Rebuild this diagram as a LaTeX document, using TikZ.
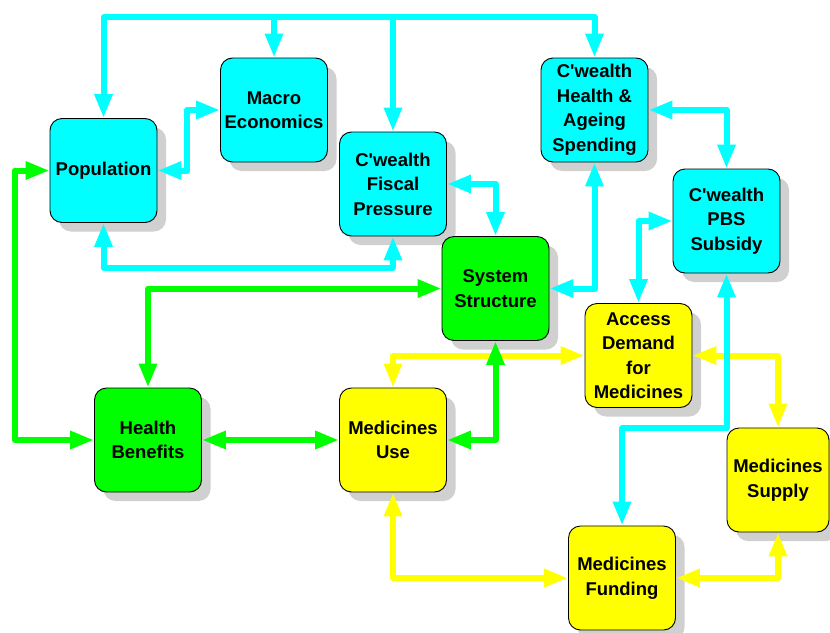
\documentclass[tikz,border=0pt]{standalone}
\usepackage{fontspec}
\setmainfont{Liberation Sans}
\usetikzlibrary{arrows.meta,shadows}
\definecolor{cy}{HTML}{00FFFF}
\definecolor{gr}{HTML}{00FF00}
\definecolor{ye}{HTML}{FFFF00}
\definecolor{sh}{HTML}{D0D0D0}
\newcommand{\cw}{C\textquotesingle wealth}
\begin{document}
\begin{tikzpicture}[x=1pt,y=-1pt,
  box/.style={rectangle, rounded corners=12pt, draw=black, line width=0.9pt,
    minimum width=107pt, minimum height=104pt, inner sep=0pt, align=center,
    font=\fontsize{18.5}{24.5}\selectfont\bfseries,
    drop shadow={shadow xshift=9pt, shadow yshift=-9pt, fill=sh, opacity=1}},
  cbox/.style={box, fill=cy},
  gbox/.style={box, fill=gr},
  ybox/.style={box, fill=ye},
  conn/.style={line width=6pt, line join=round, >={Triangle[length=24pt,width=17pt]}},
  cline/.style={conn, draw=cy},
  gline/.style={conn, draw=gr},
  yline/.style={conn, draw=ye}]
\useasboundingbox (0,0) rectangle (830,632);

% nodes
\node[cbox] (pop)    at (103.5,170.5) {Population};
\node[cbox] (macro)  at (274,110)     {Macro\\Economics};
\node[cbox] (fiscal) at (393,184)     {\cw\\Fiscal\\Pressure};
\node[cbox] (hag)    at (594.5,110)   {\cw\\Health \&\\Ageing\\Spending};
\node[cbox] (pbs)    at (726.5,221)   {\cw\\PBS\\Subsidy};
\node[gbox] (sys)    at (495.5,288.5) {System\\Structure};
\node[ybox] (acc)    at (638.5,355.5) {Access\\Demand\\for\\Medicines};
\node[gbox] (hb)     at (148,440)     {Health\\Benefits};
\node[ybox] (use)    at (393,440)     {Medicines\\Use};
\node[ybox, minimum width=102pt] (sup) at (778,480) {Medicines\\Supply};
\node[ybox] (fund)   at (622,578)     {Medicines\\Funding};

\coordinate (busy) at (0,17);

% yellow connectors
\draw[yline,<->] (use.north) |- (acc.west);
\draw[yline,<->] (acc.east) -| (sup.north);
\draw[yline,<->] (use.south) |- (fund.west);
\draw[yline,<->] (fund.east) -| (sup.south);

% cyan connectors
\draw[cline,<->] (pop.north) -- (pop.north |- busy) -- (hag.north |- busy) -- (hag.north);
\draw[cline,->] (macro.north |- busy) -- (macro.north);
\draw[cline,->] (fiscal.north |- busy) -- (fiscal.north);
\draw[cline,<->] (pop.east) -- ++(30,0) |- (macro.west);
\draw[cline,<->] (pop.south) -- ++(0,45) -| (fiscal.south);
\draw[cline,<->] (fiscal.east) -| (sys.north);
\draw[cline,<->] (hag.east) -| (pbs.north);
\draw[cline,<->] (hag.south) |- (sys.east);
\draw[cline,<->] (pbs.west) -| (acc.north);
\draw[cline,<->] (pbs.south) -- ++(0,155) -| (fund.north);

% green connectors
\draw[gline,<->] (pop.west) -- ++(-35,0) |- (hb.west);
\draw[gline,<->] (hb.north) |- (sys.west);
\draw[gline,<->] (hb.east) -- (use.west);
\draw[gline,<->] (use.east) -| (sys.south);
\end{tikzpicture}
\end{document}
